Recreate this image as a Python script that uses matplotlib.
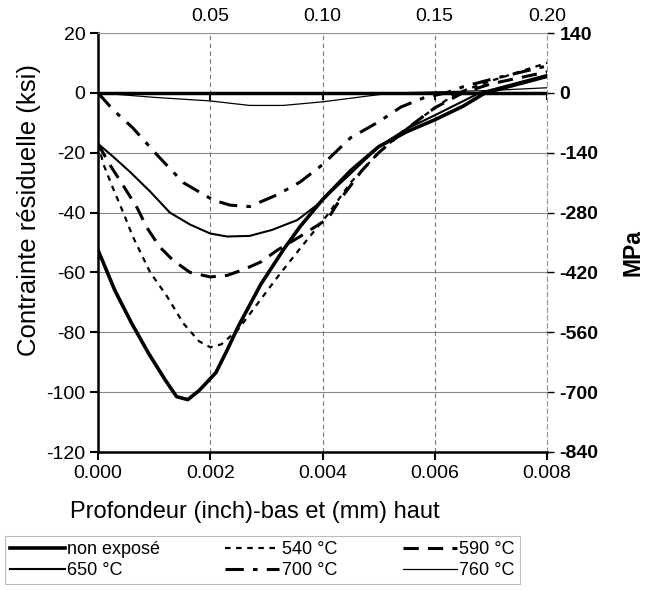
import numpy as np
import matplotlib
matplotlib.use("Agg")
import matplotlib.pyplot as plt
from matplotlib.lines import Line2D

plt.rcParams['font.family'] = ['Liberation Sans', 'DejaVu Sans']
plt.rcParams['axes.unicode_minus'] = False

# depth (inch) / residual stress (ksi)
x_non = [0, 0.0003, 0.0006, 0.0009, 0.0012, 0.0014, 0.0016, 0.0018, 0.0021, 0.0023,
         0.0025, 0.0029, 0.0033, 0.0036, 0.0040, 0.0045, 0.0050, 0.0055, 0.0060,
         0.0065, 0.0069, 0.0075, 0.0080]
y_non = [-52.5, -66, -77, -87, -96, -101.5, -102.5, -99.5, -93.5, -86,
         -78, -64, -52.5, -44.7, -35.7, -26, -18, -13, -9,
         -4.5, 0, 3, 5.5]

x_540 = [0, 0.0001, 0.00027, 0.00045, 0.00062, 0.00093, 0.00123, 0.00152, 0.0018,
         0.002, 0.0022, 0.0025, 0.0029, 0.0032, 0.0036, 0.0041, 0.0045, 0.005,
         0.0055, 0.006, 0.0064, 0.007, 0.008]
y_540 = [-17, -24, -32, -40, -48, -60, -68, -77, -83,
         -85, -84, -79, -69, -61.5, -52, -40.5, -30, -20,
         -12, -5, 0, 4, 10]

x_590 = [0, 0.00021, 0.00045, 0.0007, 0.00087, 0.0011, 0.00134, 0.00164, 0.002,
         0.0023, 0.0026, 0.0029, 0.0032, 0.0036, 0.0041, 0.0043, 0.0047, 0.005,
         0.0055, 0.006, 0.0065, 0.007, 0.008]
y_590 = [-17, -24, -31, -38.5, -45, -51.5, -56, -60, -61.5,
         -61, -59, -56.5, -52.5, -48, -42, -36, -26, -20,
         -12, -5, 0, 3, 7]

x_650 = [0, 0.00025, 0.00057, 0.00093, 0.00128, 0.00164, 0.002, 0.0023, 0.0027,
         0.0031, 0.00355, 0.0039, 0.0045, 0.005, 0.0055, 0.006, 0.0068, 0.008]
y_650 = [-17, -21, -26.4, -33, -40, -44, -47, -48, -47.8,
         -45.8, -42.5, -37.5, -27, -18, -12, -7.5, 0, 6]

x_700 = [0, 0.00027, 0.00062, 0.00105, 0.00152, 0.00205, 0.00235, 0.0027, 0.0032,
         0.0036, 0.004, 0.0045, 0.005, 0.0054, 0.0058, 0.0062, 0.0065, 0.007, 0.008]
y_700 = [0, -5.7, -11.7, -20.7, -30, -35.8, -37.5, -38, -34,
         -29.8, -24, -15, -9.7, -4.7, -1.7, 0, 2, 4.5, 9]

x_760 = [0, 0.001, 0.002, 0.0027, 0.0033, 0.004, 0.0045, 0.005, 0.0053, 0.006, 0.007, 0.008]
y_760 = [0, -1.5, -2.7, -4.2, -4.2, -3.0, -1.8, -0.6, 0, 0.3, 0.8, 1.7]

ksi_ticks = [20, 0, -20, -40, -60, -80, -100, -120]
mpa_ticks = [140, 0, -140, -280, -420, -560, -700, -840]
inch_ticks = [0.000, 0.002, 0.004, 0.006, 0.008]
mm_ticks = [0.05, 0.10, 0.15, 0.20]

fig = plt.figure(figsize=(6.56, 5.91), dpi=100)
ax = fig.add_axes([98/656, 1-452/591, (547-98)/656, (452-33)/591])

ax.set_xlim(0, 0.008)
ax.set_ylim(-120, 20)

# grid
for v in ksi_ticks:
    ax.axhline(v, color='#888888', lw=0.8, zorder=1)
for v in inch_ticks[1:]:
    ax.axvline(v, color='#777777', lw=0.8, ls=(0, (4, 3)), zorder=1)

# secondary x axis drawn at y = 0
ax.axhline(0, color='black', lw=2.5, zorder=3)
for v in inch_ticks[1:]:
    ax.plot([v, v], [0, -2], color='black', lw=1.5, zorder=3)

ax.plot(x_non, y_non, color='black', lw=2.6, zorder=4)
ax.plot(x_540, y_540, color='black', lw=1.6, ls=(0, (2.5, 2.5)), zorder=4)
ax.plot(x_590, y_590, color='black', lw=2.2, ls=(0, (5, 3)), zorder=4)
ax.plot(x_650, y_650, color='black', lw=1.5, zorder=4)
ax.plot(x_700, y_700, color='black', lw=2.2, ls=(0, (6, 3, 1.5, 3)), zorder=4)
ax.plot(x_760, y_760, color='black', lw=0.9, zorder=4)

ax.set_yticks(ksi_ticks)
ax.set_yticklabels([str(v) for v in ksi_ticks])
ax.set_xticks(inch_ticks)
ax.set_xticklabels(['%.3f' % v for v in inch_ticks])
ax.tick_params(labelsize=14, direction='out', length=6, width=1.5, pad=3)
for s in ['left', 'bottom']:
    ax.spines[s].set_linewidth(1.8)
for s in ['top', 'right']:
    ax.spines[s].set_color('#999999')
    ax.spines[s].set_linewidth(0.8)
    ax.spines[s].set_linestyle((0, (4, 3)))

top = ax.secondary_xaxis('top', functions=(lambda x: x * 25, lambda x: x / 25))
top.set_xticks(mm_ticks)
top.set_xticklabels(['%.2f' % v for v in mm_ticks])
top.tick_params(labelsize=14, length=0, pad=6)
top.spines['top'].set_visible(False)

right = ax.twinx()
right.set_ylim(-840, 140)
right.set_yticks(mpa_ticks)
right.set_yticklabels([str(v) for v in mpa_ticks], fontweight='bold')
right.tick_params(labelsize=14, direction='out', length=5, width=1, pad=4)
for s in right.spines.values():
    s.set_visible(False)

fig.text(29/656, 1-210/591, 'Contrainte résiduelle (ksi)', rotation=90,
         ha='center', va='center', fontsize=18.5)
fig.text(633/656, 1-253/591, 'MPa', rotation=90, ha='center', va='center',
         fontsize=16.5, fontweight='bold')
fig.text(255/656, 1-512/591, 'Profondeur (inch)-bas et (mm) haut',
         ha='center', va='center', fontsize=17)

handles = [
    Line2D([], [], color='black', lw=2.6),
    Line2D([], [], color='black', lw=1.5),
    Line2D([], [], color='black', lw=1.6, ls=(0, (2.5, 2.5))),
    Line2D([], [], color='black', lw=2.2, ls=(0, (6, 3, 1.5, 3))),
    Line2D([], [], color='black', lw=2.2, ls=(0, (5, 3))),
    Line2D([], [], color='black', lw=0.9),
]
labels = ['non exposé', '650 °C', '540 °C', '700 °C', '590 °C', '760 °C']
leg = fig.legend(handles, labels, ncol=3, loc='upper left',
                 bbox_to_anchor=(5/656, 1-536/591), fontsize=13,
                 frameon=True, fancybox=False, edgecolor='#aaaaaa',
                 handlelength=3.0, handletextpad=0.15, columnspacing=3.6,
                 labelspacing=0.2, borderpad=0.3, borderaxespad=0)
leg.get_frame().set_linewidth(0.8)

fig.savefig('out.png', dpi=100)
